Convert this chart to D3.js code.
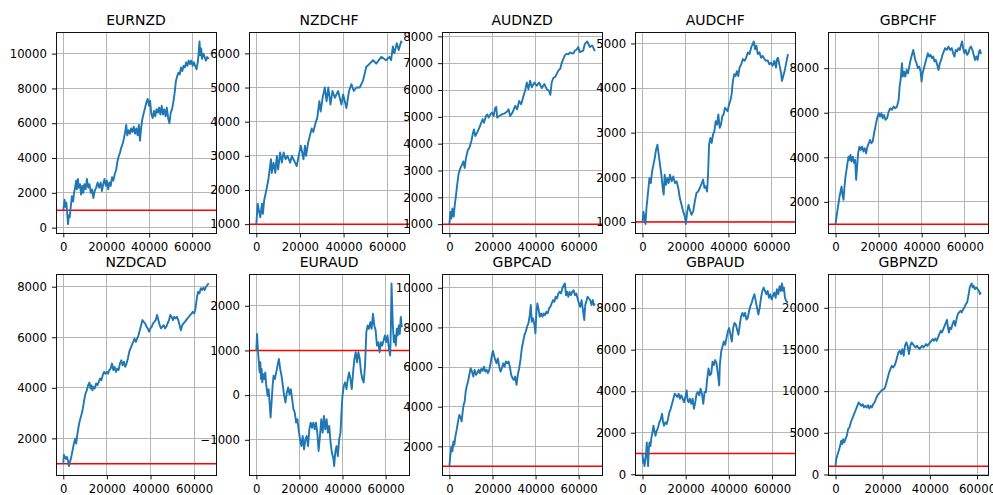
<!DOCTYPE html>
<html>
<head>
<meta charset="utf-8">
<script src="https://cdn.jsdelivr.net/npm/d3@7"></script>
<style>
  html, body { margin: 0; padding: 0; background: #fff; }
  svg { display: block; font-family: "DejaVu Sans", sans-serif; }
</style>
</head>
<body>
<svg id="chart" width="993" height="495"></svg>
<script>
// Equity curves per currency pair: [step, balance]
const pairNames = ["EURNZD", "NZDCHF", "AUDNZD", "AUDCHF", "GBPCHF",
                   "NZDCAD", "EURAUD", "GBPCAD", "GBPAUD", "GBPNZD"];
const xTicks = [0, 20000, 40000, 60000];
const startBalance = 1000;

const EURNZD = [[0,1000],[300,1300],[600,1600],[1000,1200],[1400,1450],[1800,900],[2200,200],[2600,700],[3000,600],[3500,1200],[4000,1800],[4600,1500],[5000,2000],[5500,2300],[6000,2700],[6300,2200],[6800,2800],[7200,2300],[7800,2500],[8300,1900],[8800,2400],[9300,2000],[9800,2500],[10400,2200],[11000,2800],[11600,2300],[12200,2500],[12800,2000],[13400,2200],[14000,1700],[14600,2100],[15300,2300],[16000,2600],[16700,2300],[17400,2600],[18000,2100],[18600,2500],[19200,2800],[19800,2400],[20300,2700],[20900,2200],[21500,2600],[22100,2400],[22700,2900],[23300,2700],[24000,3100],[24600,3300],[25200,3800],[25800,4100],[26400,4300],[27000,4600],[27600,4800],[28200,5100],[28800,5500],[29300,5900],[29800,5300],[30400,5600],[31000,5400],[31600,5700],[32200,5500],[32800,5800],[33400,5400],[34000,5700],[34600,5300],[35200,5900],[35700,5000],[36300,5800],[36900,6300],[37500,6600],[38100,6900],[38700,7200],[39300,7400],[39900,7000],[40400,7300],[41000,6500],[41600,6300],[42200,6700],[42800,6400],[43400,6800],[44000,6600],[44600,6900],[45200,6500],[45800,7000],[46400,6500],[47000,6800],[47600,6400],[48200,6900],[48800,6300],[49400,6000],[50000,6600],[50600,6800],[51200,7200],[51800,7700],[52400,8400],[53000,8700],[53600,8900],[54200,8800],[54800,9200],[55400,9000],[56000,9300],[56600,9200],[57200,9500],[57800,9300],[58400,9600],[59000,9400],[59600,9600],[60200,9300],[60800,9500],[61400,9300],[62000,9100],[62600,9500],[63000,10000],[63400,10700],[63800,9900],[64200,10300],[64600,9700],[65200,10000],[65800,9800],[66400,9600],[67000,9800],[67700,9700]];

const NZDCHF = [[0,1000],[600,1600],[1200,1400],[1800,1200],[2600,1600],[3000,1300],[3600,1700],[4600,2000],[5500,2300],[6100,2600],[6700,2900],[7100,2500],[7900,2800],[8700,2500],[9400,3000],[10000,2600],[10900,3100],[11700,2800],[12500,3100],[13400,2900],[14300,3000],[15500,2800],[16300,3000],[17000,2900],[17800,2800],[18500,2700],[19400,3000],[20400,3300],[21600,2900],[22300,3300],[22800,3000],[23800,3400],[25400,3800],[26100,3700],[27300,4000],[27900,4100],[28900,4600],[29500,4300],[30400,4700],[31400,5000],[32200,4600],[33000,5000],[34000,4500],[34900,4900],[36000,4700],[37500,4900],[39000,4500],[39800,4800],[41300,4400],[42500,4900],[43600,5100],[44700,4900],[45900,5000],[47400,5000],[48900,5200],[50400,5600],[52000,5700],[53500,5800],[55000,5700],[57300,5900],[59500,5800],[61100,5900],[61800,5800],[62600,6200],[63300,6000],[64400,6300],[65300,6100],[66400,6350],[66700,6300]];

const AUDNZD = [[0,1000],[460,1460],[930,1210],[1390,1590],[2000,1280],[2470,1710],[3080,2090],[3700,2530],[4320,2900],[5090,3090],[5860,3220],[6480,3340],[7090,3090],[7710,3470],[8640,3780],[9250,3840],[10180,4090],[10790,4340],[11410,4530],[12030,4280],[12800,4400],[13570,4530],[14500,4720],[15420,4910],[16040,4780],[16960,5030],[17580,5090],[18200,4970],[18970,5090],[19740,5160],[20510,5030],[21280,5340],[21740,5370],[22200,4970],[23130,5030],[24360,5090],[25600,5130],[26680,5190],[27450,5280],[28220,5030],[29300,5160],[30530,5410],[31460,5280],[32380,5590],[33310,5470],[34390,5780],[35160,5970],[35930,6280],[36700,6030],[37470,6350],[38240,6100],[39480,6280],[40560,6160],[41630,6280],[42870,6070],[44100,6220],[45180,6030],[46260,5970],[46880,5820],[47490,6280],[48260,6450],[49190,6500],[49960,6620],[50580,6720],[51500,6800],[52120,7000],[52890,7160],[53660,7300],[54430,7350],[55200,7330],[55970,7400],[56750,7370],[57520,7360],[58290,7470],[59060,7500],[59830,7600],[60600,7410],[62140,7470],[62910,7720],[63990,7810],[65230,7600],[66300,7660],[67540,7450]];

const AUDCHF = [[0,1000],[460,1230],[930,1080],[1390,950],[1850,1310],[2310,1530],[2780,1760],[3240,1980],[3860,1870],[4470,2130],[5090,2280],[5710,2430],[6320,2620],[6940,2730],[7560,2510],[8170,2280],[8790,2060],[9410,1760],[9870,1610],[10330,2060],[10950,1830],[11570,1980],[12180,1870],[12800,2060],[13570,1910],[14340,2020],[15110,1870],[15880,1910],[16650,1760],[17420,1530],[18200,1380],[18970,1230],[19740,1120],[20200,950],[20820,1230],[21430,1380],[22050,1270],[22820,1160],[23590,1230],[24360,1460],[25130,1650],[25910,1680],[26680,1760],[27600,1870],[28220,1950],[28840,1760],[29450,1800],[30070,1680],[30530,2060],[30990,2730],[31610,2880],[32230,2770],[32840,2960],[33460,3030],[34080,3260],[34700,3180],[35310,3410],[35930,3110],[36540,3180],[37160,3370],[37780,3410],[38400,3560],[39010,3520],[39630,3480],[40250,3630],[40860,3710],[41480,3860],[42100,4160],[42710,4310],[43330,4270],[43950,4380],[44570,4270],[45180,4460],[45950,4530],[46720,4650],[47490,4610],[48260,4680],[49040,4800],[49810,4760],[50580,4910],[51350,4990],[51810,5045],[52430,4870],[53040,4950],[53660,4760],[54430,4800],[55200,4680],[55970,4720],[56750,4650],[57520,4610],[58290,4620],[59060,4530],[59830,4570],[60600,4500],[61370,4610],[62140,4460],[62610,4650],[63070,4680],[63690,4530],[64460,4350],[64920,4160],[65540,4270],[66150,4380],[66770,4530],[67390,4680],[67700,4760]];

const GBPCHF = [[0,1000],[460,1340],[930,1640],[1390,1940],[1850,2240],[2310,2460],[2780,2690],[3240,2310],[3700,2090],[4160,2690],[4630,3140],[5090,3440],[5550,3740],[6010,4030],[6480,3880],[6940,4110],[7400,3810],[8020,4030],[8640,3740],[9100,3880],[9560,2990],[10020,3590],[10490,4180],[11100,4480],[11720,4330],[12340,4480],[12950,4260],[13570,4410],[14190,4180],[14800,4480],[15420,4630],[16040,4780],[16650,4630],[17270,4710],[17890,5080],[18500,5380],[19280,5750],[20050,5980],[20660,5830],[21280,5980],[21900,5750],[22510,5900],[23130,5680],[23900,5750],[24670,6050],[25440,6200],[26210,6130],[26990,6280],[27760,6200],[28530,6280],[29300,6580],[29760,7180],[30220,7470],[30840,8220],[31150,7620],[31770,7850],[32380,7620],[33000,7920],[33620,7770],[34230,8070],[34850,8370],[35470,8600],[36080,8820],[36550,8600],[37010,8370],[37620,8220],[38240,8000],[38860,8070],[39480,7850],[39940,7400],[40400,7770],[41020,8000],[41630,8220],[42250,8450],[42870,8670],[43480,8520],[44100,8600],[44720,8450],[45330,8520],[45950,8300],[46570,8370],[47190,8150],[47800,7920],[48420,8220],[49040,8370],[49650,8600],[50270,8750],[50890,8900],[51660,8820],[52430,8970],[53200,8820],[53970,8900],[54590,8670],[55200,8520],[55820,8820],[56440,8750],[57050,8900],[57670,8820],[58290,9050],[58750,9200],[59220,8900],[59830,8670],[60450,8820],[61060,8600],[61680,8670],[62300,8900],[62910,8970],[63530,8820],[64150,8600],[64760,8370],[65380,8520],[66000,8370],[66610,8750],[67080,8820],[67540,8640]];

const NZDCAD = [[0,1000],[300,1350],[760,1260],[1220,1190],[1670,1260],[2130,1130],[2580,900],[3040,1060],[3490,1190],[3950,1390],[4410,1590],[5010,1850],[5470,1990],[5920,1790],[6380,2120],[6990,2450],[7440,2650],[8050,2850],[8660,3040],[9110,3240],[9570,3510],[10180,3770],[10780,3900],[11390,4100],[12000,4210],[12460,3970],[12910,4100],[13370,3900],[13820,4040],[14430,3970],[15040,4170],[15650,4100],[16250,4230],[16860,4370],[17470,4300],[18080,4500],[18680,4630],[19290,4560],[19900,4630],[20510,4560],[21110,4700],[21720,4760],[22330,4960],[22940,4700],[23540,4830],[24150,4630],[24760,4760],[25370,4700],[25970,4960],[26580,5090],[27190,4890],[27800,5030],[28400,4830],[29010,4960],[29620,5160],[30230,5420],[30840,5560],[31440,5690],[32050,5820],[32660,5950],[33270,5820],[33870,5950],[34480,6080],[35090,6280],[35700,6480],[36300,6680],[36910,6610],[37520,6550],[38130,6420],[38730,6350],[39340,6220],[39950,6350],[40560,6420],[41160,6550],[41770,6610],[42380,6680],[42990,6880],[43590,6680],[44200,6480],[44810,6350],[45420,6420],[46030,6480],[46630,6350],[47240,6420],[47850,6550],[48460,6680],[49060,6880],[49670,6810],[50280,6680],[50890,6810],[51490,6750],[52100,6810],[52710,6680],[53320,6480],[53920,6280],[54530,6480],[55140,6550],[55750,6610],[56350,6680],[56960,6750],[57570,6810],[58180,6880],[58790,6940],[59390,7010],[60000,6940],[60610,7140],[61220,7540],[61820,7800],[62430,7740],[63040,7940],[63640,7870],[64250,7960],[64860,7870],[65470,8000],[66080,8070],[66680,8130]];

const EURAUD = [[0,1000],[310,1370],[620,1110],[920,885],[1230,700],[1540,510],[1850,735],[2150,360],[2460,585],[2770,285],[3230,470],[3690,360],[4150,510],[4610,210],[5230,-15],[5690,135],[6150,-165],[6610,-500],[7070,-165],[7540,210],[8000,435],[8610,360],[9230,510],[9840,660],[10460,810],[11070,585],[11690,435],[12300,210],[12920,-15],[13530,-165],[14150,60],[14760,170],[15380,20],[16000,135],[16610,-90],[17230,-315],[17840,-390],[18460,-615],[19070,-540],[19690,-800],[20300,-990],[20920,-1140],[21530,-915],[22150,-1215],[22760,-990],[23380,-915],[23990,-1140],[24610,-765],[25220,-615],[25840,-730],[26450,-615],[27070,-765],[27680,-615],[28300,-840],[28910,-1250],[29530,-915],[30140,-540],[30760,-840],[31380,-465],[31990,-765],[32610,-540],[33220,-840],[33840,-690],[34450,-1065],[35070,-1290],[35680,-1400],[36140,-1590],[36600,-1290],[37220,-1140],[37830,-1365],[38450,-990],[39070,-840],[39680,-240],[39990,-15],[40600,210],[41220,285],[41830,135],[42450,360],[43060,510],[43680,360],[44290,135],[44910,510],[45520,810],[46140,960],[46750,735],[47370,960],[47990,810],[48600,510],[49220,360],[49830,285],[50450,660],[51060,1410],[51680,1560],[52290,1485],[52910,1635],[53520,1485],[54140,1820],[54750,1560],[55370,1450],[55980,1110],[56600,1185],[57210,960],[57830,1185],[58440,1110],[59060,1220],[59670,1335],[60290,1185],[60900,1335],[61520,1035],[62140,885],[62440,1485],[62750,2500],[63060,2010],[63370,1560],[63830,1185],[64290,1335],[64750,1110],[65210,1485],[65670,1335],[66130,1560],[66590,1370],[67050,1750],[67520,1520]];

const GBPCAD = [[0,1000],[460,1580],[930,2000],[1390,1750],[1850,2250],[2310,2080],[2780,2500],[3390,2840],[4010,3260],[4630,3590],[5240,3430],[5710,3260],[6170,3760],[6630,4100],[7090,4260],[7560,4770],[8020,5020],[8640,5270],[9250,5610],[9870,5940],[10490,5770],[11100,5520],[11720,5860],[12340,5610],[12950,5690],[13570,5860],[14190,5690],[14800,5910],[15420,5810],[16040,6020],[16650,5770],[17270,5860],[17890,5690],[18500,5860],[19120,6190],[19740,6610],[20200,6810],[20660,6610],[21280,6360],[21900,6190],[22510,6440],[23130,6020],[23750,5770],[24360,5940],[24980,6190],[25600,6020],[26220,6280],[26830,6190],[27450,6280],[28060,6020],[28680,5610],[29300,5440],[29910,5350],[30530,5520],[31150,5100],[31770,5610],[32380,5940],[33000,6360],[33620,6950],[34230,7280],[34850,7620],[35470,7790],[36080,8040],[36700,8210],[37320,8620],[37780,9130],[38240,8290],[38860,8460],[39480,8120],[39940,7700],[40400,8790],[40860,9210],[41330,8960],[41940,8540],[42560,8710],[43180,8540],[43790,8710],[44410,8620],[45030,8790],[45640,8710],[46260,8960],[46880,9040],[47490,9210],[48110,9380],[48730,9290],[49340,9550],[49960,9460],[50580,9710],[51190,9800],[51810,9710],[52430,9960],[53050,10130],[53660,10220],[54120,9630],[54590,9800],[55200,9550],[55820,9800],[56440,9630],[57050,9800],[57670,9880],[58290,9630],[58910,9710],[59520,9460],[60140,9210],[60750,9040],[61370,9380],[61990,8880],[62610,8370],[63070,9130],[63530,9290],[64150,9550],[64760,9460],[65380,9380],[66000,9130],[66610,9380],[67080,9130],[67540,9210]];

const GBPAUD = [[0,1000],[310,550],[620,710],[920,390],[1230,630],[1690,1040],[2000,1530],[2310,880],[2610,390],[2920,1200],[3230,1530],[3690,1360],[4150,1770],[4610,2010],[5080,2340],[5540,2090],[6000,1850],[6610,2090],[7230,2260],[7840,2500],[8460,2660],[9070,2910],[9540,2500],[10000,2340],[10610,2500],[11230,2420],[11840,2660],[12460,2990],[13070,3150],[13690,3390],[14300,3640],[14920,3880],[15530,3800],[16150,3720],[16760,3880],[17380,3640],[17990,3800],[18610,3640],[19230,3470],[19840,3720],[20460,4040],[20920,3550],[21380,3470],[21990,3640],[22610,3390],[23220,3640],[23840,3150],[24450,3470],[25070,3880],[25680,3960],[26300,3800],[26910,4120],[27530,3880],[28150,3390],[28760,3960],[29380,3960],[29990,4610],[30610,5100],[31220,4770],[31840,4850],[32450,5420],[33070,5260],[33680,5500],[34300,5340],[34910,4850],[35530,4280],[35830,5260],[36450,5910],[37070,6150],[37680,6390],[38300,6230],[38910,6560],[39530,6880],[40140,7040],[40760,6720],[41370,6390],[41990,7040],[42600,7290],[43220,7210],[43840,6960],[44450,6720],[45070,7210],[45680,7610],[46300,7770],[46910,7610],[47530,7770],[48140,7450],[48760,7530],[49370,7860],[49990,8100],[50600,8260],[51220,8500],[51830,8670],[52450,8340],[53060,8020],[53680,7690],[54290,8020],[54910,8500],[55520,8830],[56140,8990],[56750,8830],[57370,8670],[57980,8830],[58600,8500],[59210,8670],[59830,8420],[60440,8590],[61060,8750],[61670,8500],[62290,8910],[62910,8670],[63520,9060],[64140,8830],[64600,9190],[65060,8830],[65530,8990],[65990,8500],[66600,8340],[67370,8260]];

const GBPNZD = [[0,1000],[280,1840],[700,2240],[1120,2640],[1540,3040],[1960,3440],[2380,4040],[2800,3640],[3220,4240],[3650,3840],[4210,4240],[4770,4640],[5330,5440],[5890,5640],[6450,6240],[7010,6640],[7570,7040],[8130,7440],[8690,7840],[9250,8240],[9810,8640],[10370,8440],[10940,8240],[11500,8440],[12060,8040],[12620,8240],[13180,8040],[13740,8320],[14300,7920],[14860,8240],[15420,8040],[15980,8440],[16540,8640],[17100,9040],[17670,9440],[18230,9640],[18790,9840],[19350,10040],[19910,10160],[20470,10240],[21030,10440],[21590,11040],[22150,11640],[22710,12240],[23270,12640],[23830,13040],[24390,12840],[24960,13040],[25520,13440],[26080,14040],[26640,14640],[27200,14840],[27760,14440],[28320,15040],[28880,14240],[29440,15440],[30000,15840],[30560,15440],[31120,14440],[31690,15440],[32250,15840],[32810,15640],[33370,15440],[33930,15240],[34490,15440],[35050,15240],[35610,15040],[36170,15240],[36730,15440],[37290,15240],[37850,15440],[38410,15640],[38980,15440],[39540,15640],[40100,15840],[40660,16040],[41220,16240],[41780,16040],[42340,16320],[42900,16040],[43460,16440],[44020,16840],[44580,17240],[45140,17040],[45710,17440],[46270,17840],[46830,18240],[47250,18560],[47670,17640],[48090,17040],[48510,17640],[49070,17440],[49630,18040],[50190,18440],[50750,17840],[51310,18640],[51870,19240],[52430,19440],[53000,19640],[53560,19440],[54120,19840],[54680,20040],[55240,20440],[55800,20640],[56360,21440],[56920,22440],[57340,22720],[57740,22920],[58160,22440],[58580,22640],[59140,22240],[59710,22440],[60270,22240],[60830,22040],[61250,21640],[61690,21840]];

const seriesByPair = { EURNZD, NZDCHF, AUDNZD, AUDCHF, GBPCHF, NZDCAD, EURAUD, GBPCAD, GBPAUD, GBPNZD };

const yTicksByPair = {
  EURNZD: [0, 2000, 4000, 6000, 8000, 10000],
  NZDCHF: [1000, 2000, 3000, 4000, 5000, 6000],
  AUDNZD: [1000, 2000, 3000, 4000, 5000, 6000, 7000, 8000],
  AUDCHF: [1000, 2000, 3000, 4000, 5000],
  GBPCHF: [2000, 4000, 6000, 8000],
  NZDCAD: [2000, 4000, 6000, 8000],
  EURAUD: [-1000, 0, 1000, 2000],
  GBPCAD: [2000, 4000, 6000, 8000, 10000],
  GBPAUD: [0, 2000, 4000, 6000, 8000],
  GBPNZD: [0, 5000, 10000, 15000, 20000]
};

// Grid of small multiples
const panelW = 160, panelH = 201;
const firstLeft = 56, colStep = 193.07;
const firstTop = 32.3, rowStep = 242;
const tickFont = 11.7, titleFont = 14;
const fmt = d => (d < 0 ? "\u2212" + Math.abs(d) : String(d));

const svg = d3.select("#chart");
svg.append("rect").attr("width", 993).attr("height", 495).attr("fill", "#fff");

pairNames.forEach((name, i) => {
  const row = Math.floor(i / 5), col = i % 5;
  const left = firstLeft + col * colStep;
  const top = firstTop + row * rowStep;
  const data = seriesByPair[name];

  // autoscale with 5% margins; the baseline is part of the y limits
  const xs = d3.extent(data, d => d[0]);
  const ys = d3.extent(data.map(d => d[1]).concat([startBalance]));
  const xPad = (xs[1] - xs[0]) * 0.05, yPad = (ys[1] - ys[0]) * 0.05;
  const x = d3.scaleLinear().domain([xs[0] - xPad, xs[1] + xPad]).range([left, left + panelW]);
  const y = d3.scaleLinear().domain([ys[0] - yPad, ys[1] + yPad]).range([top + panelH, top]);

  const g = svg.append("g").attr("class", "panel");
  const clipId = "clip-" + name;
  g.append("clipPath").attr("id", clipId)
    .append("rect").attr("x", left).attr("y", top).attr("width", panelW).attr("height", panelH);

  g.append("rect").attr("x", left).attr("y", top).attr("width", panelW).attr("height", panelH).attr("fill", "#fff");

  // grid
  const grid = g.append("g").attr("stroke", "#b0b0b0").attr("stroke-width", 0.93).attr("shape-rendering", "crispEdges");
  grid.selectAll("line.gx").data(xTicks).join("line").attr("class", "gx")
    .attr("x1", d => x(d)).attr("x2", d => x(d)).attr("y1", top).attr("y2", top + panelH);
  grid.selectAll("line.gy").data(yTicksByPair[name]).join("line").attr("class", "gy")
    .attr("x1", left).attr("x2", left + panelW).attr("y1", d => y(d)).attr("y2", d => y(d));

  const plot = g.append("g").attr("clip-path", `url(#${clipId})`);
  // starting balance reference
  plot.append("line")
    .attr("x1", left).attr("x2", left + panelW)
    .attr("y1", y(startBalance)).attr("y2", y(startBalance))
    .attr("stroke", "#ff0000").attr("stroke-width", 1.5);
  // equity curve
  plot.append("path").datum(data)
    .attr("fill", "none").attr("stroke", "#1f77b4").attr("stroke-width", 1.9)
    .attr("stroke-linejoin", "round")
    .attr("d", d3.line().x(d => x(d[0])).y(d => y(d[1])));

  // axes
  const xAxis = g.append("g").attr("transform", `translate(0,${top + panelH})`)
    .call(d3.axisBottom(x).tickValues(xTicks).tickFormat(fmt).tickSize(4.1).tickPadding(4.8).tickSizeOuter(0));
  const yAxis = g.append("g").attr("transform", `translate(${left},0)`)
    .call(d3.axisLeft(y).tickValues(yTicksByPair[name]).tickFormat(fmt).tickSize(4.1).tickPadding(5).tickSizeOuter(0));
  [xAxis, yAxis].forEach(a => {
    a.select(".domain").remove();
    a.attr("font-family", "'DejaVu Sans', sans-serif").attr("font-size", tickFont);
    a.selectAll(".tick line").attr("stroke", "#000").attr("stroke-width", 0.93);
    a.selectAll(".tick text").attr("fill", "#000");
  });

  // spines
  g.append("rect").attr("x", left).attr("y", top).attr("width", panelW).attr("height", panelH)
    .attr("fill", "none").attr("stroke", "#000").attr("stroke-width", 0.93).attr("shape-rendering", "crispEdges");

  // title
  g.append("text").attr("x", left + panelW / 2).attr("y", top - 7.5)
    .attr("text-anchor", "middle").attr("font-size", titleFont).attr("fill", "#000")
    .text(name);
});
</script>
</body>
</html>
